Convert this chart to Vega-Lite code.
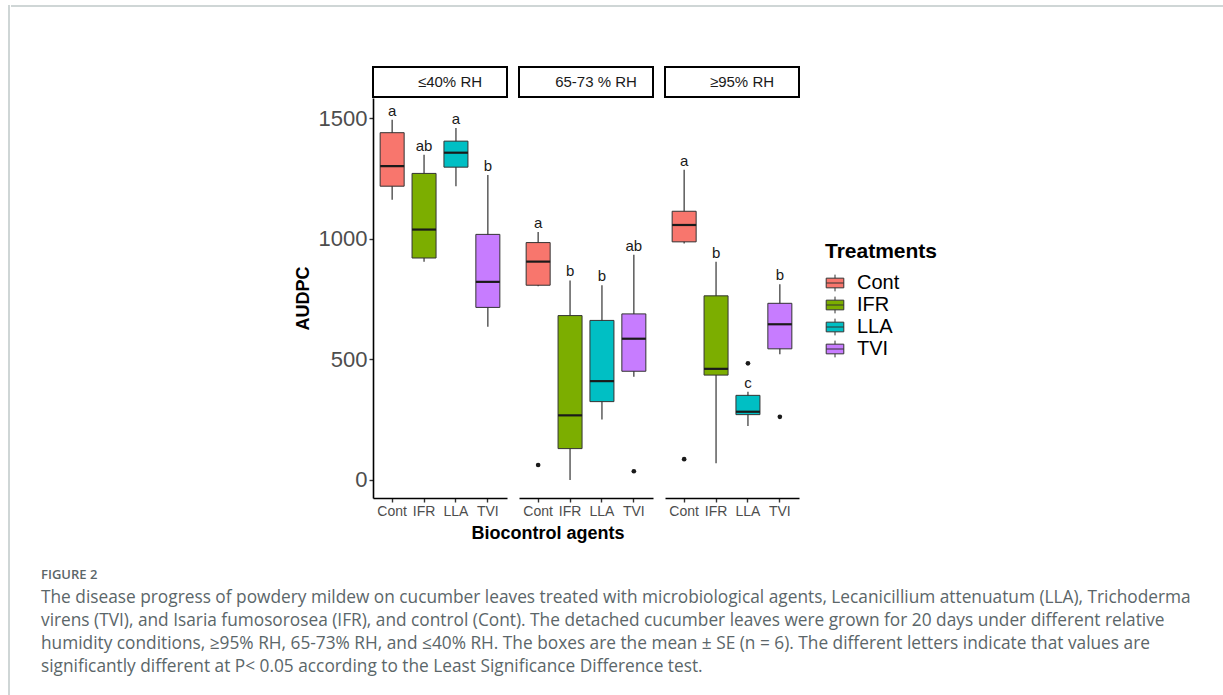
{
  "$schema": "https://vega.github.io/schema/vega-lite/v6.json",
  "padding": {"left": 8, "top": 5, "right": 0, "bottom": 0},
  "background": "white",
  "config": {
    "font": "Liberation Sans",
    "view": {"stroke": null},
    "axis": {
      "grid": false,
      "domainColor": "black",
      "domainWidth": 1.6,
      "tickColor": "#333333",
      "tickWidth": 1.4,
      "tickSize": 4,
      "labelColor": "#4d4d4d",
      "titleColor": "black",
      "titleFontWeight": "bold",
      "titleFontSize": 18
    },
    "legend": {"layout": {"right": {"anchor": "middle"}}}
  },
  "datasets": {
    "empty": [],
    "strips": [
      {"rh": "≤40% RH"},
      {"rh": "65-73 % RH"},
      {"rh": "≥95% RH"}
    ],
    "boxes": [
      {"rh": "≤40% RH", "trt": "Cont", "lower": 1163, "q1": 1219, "median": 1302, "q3": 1441, "upper": 1495, "letter": "a"},
      {"rh": "≤40% RH", "trt": "IFR", "lower": 905, "q1": 921, "median": 1039, "q3": 1272, "upper": 1350, "letter": "ab"},
      {"rh": "≤40% RH", "trt": "LLA", "lower": 1219, "q1": 1298, "median": 1358, "q3": 1406, "upper": 1460, "letter": "a"},
      {"rh": "≤40% RH", "trt": "TVI", "lower": 636, "q1": 716, "median": 822, "q3": 1019, "upper": 1265, "letter": "b"},
      {"rh": "65-73 % RH", "trt": "Cont", "lower": 804, "q1": 808, "median": 906, "q3": 985, "upper": 1029, "letter": "a"},
      {"rh": "65-73 % RH", "trt": "IFR", "lower": 0, "q1": 130, "median": 268, "q3": 682, "upper": 828, "letter": "b"},
      {"rh": "65-73 % RH", "trt": "LLA", "lower": 251, "q1": 325, "median": 410, "q3": 662, "upper": 808, "letter": "b"},
      {"rh": "65-73 % RH", "trt": "TVI", "lower": 428, "q1": 451, "median": 586, "q3": 689, "upper": 935, "letter": "ab"},
      {"rh": "≥95% RH", "trt": "Cont", "lower": 981, "q1": 988, "median": 1058, "q3": 1115, "upper": 1287, "letter": "a"},
      {"rh": "≥95% RH", "trt": "IFR", "lower": 69, "q1": 435, "median": 461, "q3": 764, "upper": 905, "letter": "b"},
      {"rh": "≥95% RH", "trt": "LLA", "lower": 224, "q1": 271, "median": 283, "q3": 351, "upper": 366, "letter": "c"},
      {"rh": "≥95% RH", "trt": "TVI", "lower": 522, "q1": 544, "median": 646, "q3": 733, "upper": 812, "letter": "b"}
    ],
    "outliers": [
      {"rh": "65-73 % RH", "trt": "Cont", "value": 62},
      {"rh": "65-73 % RH", "trt": "TVI", "value": 36},
      {"rh": "≥95% RH", "trt": "Cont", "value": 86},
      {"rh": "≥95% RH", "trt": "LLA", "value": 484},
      {"rh": "≥95% RH", "trt": "TVI", "value": 262}
    ],
    "caption": [
      {"line": 0, "kind": "head", "text": "FIGURE 2"},
      {"line": 1, "kind": "body", "text": "The disease progress of powdery mildew on cucumber leaves treated with microbiological agents, Lecanicillium attenuatum (LLA), Trichoderma"},
      {"line": 2, "kind": "body", "text": "virens (TVI), and Isaria fumosorosea (IFR), and control (Cont). The detached cucumber leaves were grown for 20 days under different relative"},
      {"line": 3, "kind": "body", "text": "humidity conditions, ≥95% RH, 65-73% RH, and ≤40% RH. The boxes are the mean ± SE (n = 6). The different letters indicate that values are"},
      {"line": 4, "kind": "body", "text": "significantly different at P< 0.05 according to the Least Significance Difference test."}
    ]
  },
  "hconcat": [
    {
      "width": 0.01, "height": 690,
      "data": {"name": "empty"},
      "view": {"stroke": "#cfd6d6", "strokeWidth": 2},
      "mark": "point",
      "encoding": {}
    },
    {
      "vconcat": [
        {
          "width": 1213, "height": 0.01,
          "data": {"name": "empty"},
          "view": {"stroke": "#cfd6d6", "strokeWidth": 2},
          "mark": "point",
          "encoding": {}
        },
        {
          "hconcat": [
            {
              "width": 29, "height": 0.01,
              "data": {"name": "empty"},
              "mark": "point",
              "encoding": {}
            },
            {
              "vconcat": [
                {
                  "hconcat": [
                    {
                      "width": 253, "height": 0.01,
                      "data": {"name": "empty"},
                      "mark": "point",
                      "encoding": {}
                    },
                    {
                      "title": {"text": "Biocontrol agents", "orient": "bottom", "anchor": "middle", "frame": "group", "dx": 175, "fontSize": 18, "fontWeight": "bold", "color": "black", "offset": 7},
                      "hconcat": [
                        {
                          "vconcat": [
                            {
                              "width": 134, "height": 30,
                              "data": {"name": "strips"},
                              "transform": [{"filter": "datum.rh === '≤40% RH'"}],
                              "view": {"stroke": "black", "strokeWidth": 2, "fill": "white"},
                              "mark": {"type": "text", "fontSize": 15, "color": "#1a1a1a", "dx": 10},
                              "encoding": {"text": {"field": "rh"}}
                            },
                            {
                              "width": 134, "height": 400,
                              "data": {"name": "boxes"},
                              "transform": [{"filter": "datum.rh === '≤40% RH'"}],
                              "encoding": {
                                "x": {"field": "trt", "type": "nominal", "sort": ["Cont", "IFR", "LLA", "TVI"],
                                      "scale": {"paddingInner": 0, "paddingOuter": 0.1},
                                      "axis": {"title": null, "labelAngle": 0, "labelFontSize": 14, "labelPadding": 2}}
                              },
                              "layer": [
                                {"mark": {"type": "rule", "color": "#333333", "strokeWidth": 1.2},
                                 "encoding": {"y": {"field": "lower", "type": "quantitative", "title": "AUDPC",
                                                    "scale": {"domain": [-75, 1585], "nice": false, "zero": false},
                                                    "axis": {"values": [0, 500, 1000, 1500], "format": "d", "labelFontSize": 22, "labelPadding": 2, "titlePadding": 6}},
                                              "y2": {"field": "upper"}}},
                                {"mark": {"type": "bar", "size": 24, "stroke": "#333333", "strokeWidth": 1},
                                 "encoding": {"y": {"field": "q1", "type": "quantitative", "title": "AUDPC",
                                                    "scale": {"domain": [-75, 1585], "nice": false, "zero": false}},
                                              "y2": {"field": "q3"},
                                              "color": {"field": "trt", "type": "nominal", "title": ["", "Treatments"],
                                                        "scale": {"domain": ["Cont", "IFR", "LLA", "TVI"], "range": ["#F8766D", "#7CAE00", "#00BFC4", "#C77CFF"]},
                                                        "legend": {"titleFontSize": 21, "titleFontWeight": "bold", "titleColor": "black", "titleLineHeight": 16, "labelFontSize": 20, "labelColor": "black",
                                                                   "symbolType": "M-1,-0.55H1V0.55H-1Z M-1,0H1 M0,-0.55V-0.95 M0,0.55V0.95",
                                                                   "symbolSize": 310, "symbolStrokeColor": "#333333", "symbolStrokeWidth": 1,
                                                                   "rowPadding": 0, "titlePadding": 11, "offset": 25, "labelOffset": 12}}}},
                                {"mark": {"type": "tick", "size": 24, "thickness": 2.2, "color": "#1a1a1a", "opacity": 1},
                                 "encoding": {"y": {"field": "median", "type": "quantitative", "title": "AUDPC",
                                                    "scale": {"domain": [-75, 1585], "nice": false, "zero": false}}}},
                                {"mark": {"type": "text", "dy": -9, "fontSize": 15, "color": "#1a1a1a"},
                                 "encoding": {"y": {"field": "upper", "type": "quantitative", "title": "AUDPC",
                                                    "scale": {"domain": [-75, 1585], "nice": false, "zero": false}},
                                              "text": {"field": "letter"}}},
                                {"data": {"name": "outliers"},
                                 "transform": [{"filter": "datum.rh === '≤40% RH'"}],
                                 "mark": {"type": "point", "filled": true, "size": 22, "color": "#1a1a1a", "opacity": 1},
                                 "encoding": {"y": {"field": "value", "type": "quantitative", "title": "AUDPC",
                                                    "scale": {"domain": [-75, 1585], "nice": false, "zero": false}}}}
                              ]
                            }
                          ],
                          "spacing": 0
                        },
                        {
                          "vconcat": [
                            {
                              "width": 134, "height": 30,
                              "data": {"name": "strips"},
                              "transform": [{"filter": "datum.rh === '65-73 % RH'"}],
                              "view": {"stroke": "black", "strokeWidth": 2, "fill": "white"},
                              "mark": {"type": "text", "fontSize": 15, "color": "#1a1a1a", "dx": 10},
                              "encoding": {"text": {"field": "rh"}}
                            },
                            {
                              "width": 134, "height": 400,
                              "data": {"name": "boxes"},
                              "transform": [{"filter": "datum.rh === '65-73 % RH'"}],
                              "encoding": {
                                "x": {"field": "trt", "type": "nominal", "sort": ["Cont", "IFR", "LLA", "TVI"],
                                      "scale": {"paddingInner": 0, "paddingOuter": 0.1},
                                      "axis": {"title": null, "labelAngle": 0, "labelFontSize": 14, "labelPadding": 2}}
                              },
                              "layer": [
                                {"mark": {"type": "rule", "color": "#333333", "strokeWidth": 1.2},
                                 "encoding": {"y": {"field": "lower", "type": "quantitative", "axis": null,
                                                    "scale": {"domain": [-75, 1585], "nice": false, "zero": false}},
                                              "y2": {"field": "upper"}}},
                                {"mark": {"type": "bar", "size": 24, "stroke": "#333333", "strokeWidth": 1},
                                 "encoding": {"y": {"field": "q1", "type": "quantitative", "axis": null,
                                                    "scale": {"domain": [-75, 1585], "nice": false, "zero": false}},
                                              "y2": {"field": "q3"},
                                              "color": {"field": "trt", "type": "nominal", "title": ["", "Treatments"],
                                                        "scale": {"domain": ["Cont", "IFR", "LLA", "TVI"], "range": ["#F8766D", "#7CAE00", "#00BFC4", "#C77CFF"]}}}},
                                {"mark": {"type": "tick", "size": 24, "thickness": 2.2, "color": "#1a1a1a", "opacity": 1},
                                 "encoding": {"y": {"field": "median", "type": "quantitative", "axis": null,
                                                    "scale": {"domain": [-75, 1585], "nice": false, "zero": false}}}},
                                {"mark": {"type": "text", "dy": -9, "fontSize": 15, "color": "#1a1a1a"},
                                 "encoding": {"y": {"field": "upper", "type": "quantitative", "axis": null,
                                                    "scale": {"domain": [-75, 1585], "nice": false, "zero": false}},
                                              "text": {"field": "letter"}}},
                                {"data": {"name": "outliers"},
                                 "transform": [{"filter": "datum.rh === '65-73 % RH'"}],
                                 "mark": {"type": "point", "filled": true, "size": 22, "color": "#1a1a1a", "opacity": 1},
                                 "encoding": {"y": {"field": "value", "type": "quantitative", "axis": null,
                                                    "scale": {"domain": [-75, 1585], "nice": false, "zero": false}}}}
                              ]
                            }
                          ],
                          "spacing": 0
                        },
                        {
                          "vconcat": [
                            {
                              "width": 134, "height": 30,
                              "data": {"name": "strips"},
                              "transform": [{"filter": "datum.rh === '≥95% RH'"}],
                              "view": {"stroke": "black", "strokeWidth": 2, "fill": "white"},
                              "mark": {"type": "text", "fontSize": 15, "color": "#1a1a1a", "dx": 10},
                              "encoding": {"text": {"field": "rh"}}
                            },
                            {
                              "width": 134, "height": 400,
                              "data": {"name": "boxes"},
                              "transform": [{"filter": "datum.rh === '≥95% RH'"}],
                              "encoding": {
                                "x": {"field": "trt", "type": "nominal", "sort": ["Cont", "IFR", "LLA", "TVI"],
                                      "scale": {"paddingInner": 0, "paddingOuter": 0.1},
                                      "axis": {"title": null, "labelAngle": 0, "labelFontSize": 14, "labelPadding": 2}}
                              },
                              "layer": [
                                {"mark": {"type": "rule", "color": "#333333", "strokeWidth": 1.2},
                                 "encoding": {"y": {"field": "lower", "type": "quantitative", "axis": null,
                                                    "scale": {"domain": [-75, 1585], "nice": false, "zero": false}},
                                              "y2": {"field": "upper"}}},
                                {"mark": {"type": "bar", "size": 24, "stroke": "#333333", "strokeWidth": 1},
                                 "encoding": {"y": {"field": "q1", "type": "quantitative", "axis": null,
                                                    "scale": {"domain": [-75, 1585], "nice": false, "zero": false}},
                                              "y2": {"field": "q3"},
                                              "color": {"field": "trt", "type": "nominal", "title": ["", "Treatments"],
                                                        "scale": {"domain": ["Cont", "IFR", "LLA", "TVI"], "range": ["#F8766D", "#7CAE00", "#00BFC4", "#C77CFF"]}}}},
                                {"mark": {"type": "tick", "size": 24, "thickness": 2.2, "color": "#1a1a1a", "opacity": 1},
                                 "encoding": {"y": {"field": "median", "type": "quantitative", "axis": null,
                                                    "scale": {"domain": [-75, 1585], "nice": false, "zero": false}}}},
                                {"mark": {"type": "text", "dy": -9, "fontSize": 15, "color": "#1a1a1a"},
                                 "encoding": {"y": {"field": "upper", "type": "quantitative", "axis": null,
                                                    "scale": {"domain": [-75, 1585], "nice": false, "zero": false}},
                                              "text": {"field": "letter"}}},
                                {"data": {"name": "outliers"},
                                 "transform": [{"filter": "datum.rh === '≥95% RH'"}],
                                 "mark": {"type": "point", "filled": true, "size": 22, "color": "#1a1a1a", "opacity": 1},
                                 "encoding": {"y": {"field": "value", "type": "quantitative", "axis": null,
                                                    "scale": {"domain": [-75, 1585], "nice": false, "zero": false}}}}
                              ]
                            }
                          ],
                          "spacing": 0
                        }
                      ],
                      "spacing": 10
                    }
                  ],
                  "spacing": 0,
                  "resolve": {"scale": {"color": "independent"}, "legend": {"color": "independent"}}
                },
                {
                  "width": 1150, "height": 92,
                  "data": {"name": "caption"},
                  "layer": [
                    {"transform": [{"filter": "datum.kind === 'head'"}],
                     "mark": {"type": "text", "align": "left", "baseline": "middle", "font": "Open Sans", "fontSize": 13, "fontWeight": 600, "color": "#5b6669"},
                     "encoding": {"x": {"value": 0},
                                  "y": {"field": "line", "type": "quantitative", "scale": {"domain": [0, 4], "reverse": true}, "axis": null},
                                  "text": {"field": "text"}}},
                    {"transform": [{"filter": "datum.kind === 'body'"}],
                     "mark": {"type": "text", "align": "left", "baseline": "middle", "font": "Open Sans", "fontSize": 17.3, "color": "#5b6669"},
                     "encoding": {"x": {"value": 0},
                                  "y": {"field": "line", "type": "quantitative", "scale": {"domain": [0, 4], "reverse": true}, "axis": null},
                                  "text": {"field": "text"}}}
                  ]
                }
              ],
              "spacing": 26,
              "resolve": {"scale": {"color": "independent"}, "legend": {"color": "independent"}}
            }
          ],
          "spacing": 0,
          "resolve": {"scale": {"color": "independent"}, "legend": {"color": "independent"}}
        }
      ],
      "spacing": 58,
      "resolve": {"scale": {"color": "independent"}, "legend": {"color": "independent"}}
    }
  ],
  "spacing": 0,
  "resolve": {"scale": {"color": "independent"}, "legend": {"color": "independent"}}
}
